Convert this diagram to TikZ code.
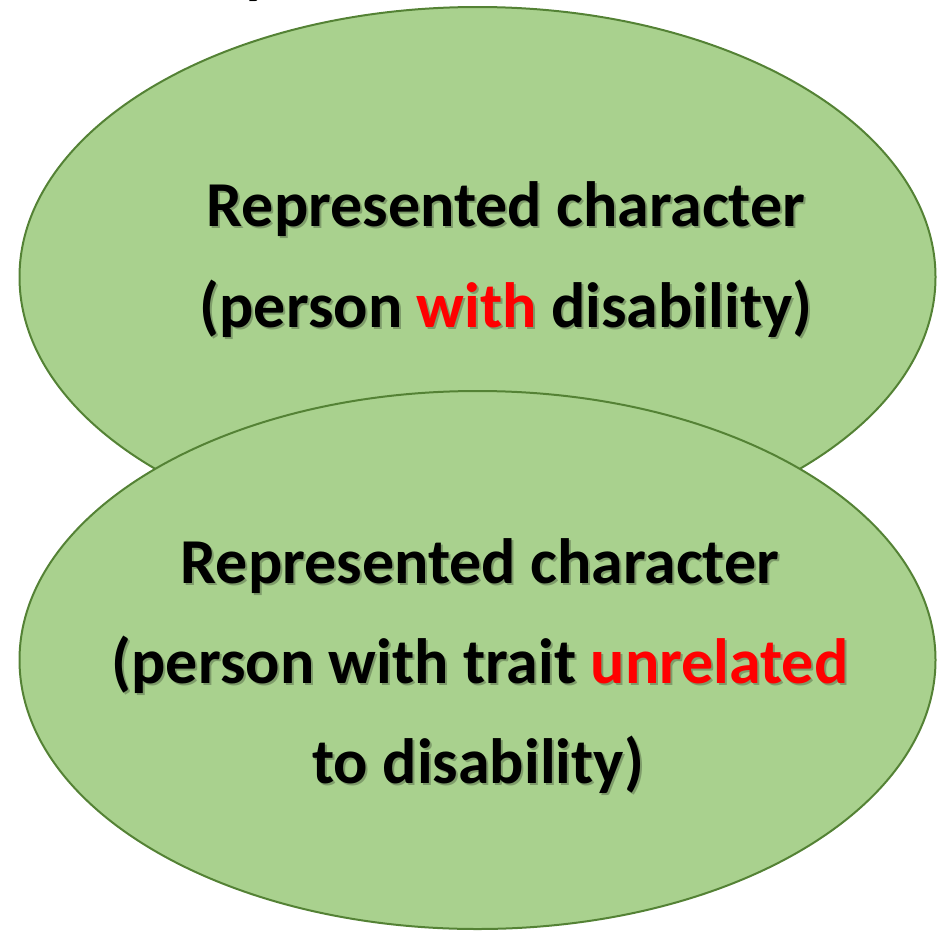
\documentclass[tikz,border=0pt]{standalone}
\usepackage{fontspec}
\setmainfont{Carlito}
\definecolor{leaf}{HTML}{A9D18E}
\definecolor{leafedge}{HTML}{548235}
\newcommand\hlcol{red}
\newcommand\hl[1]{{\color{\hlcol}#1}}
\tikzset{
  lbl/.style={anchor=base, inner sep=0pt, font=\fontsize{64}{68}\selectfont\bfseries},
  shade/.style={lbl, text=black, opacity=0.25, xshift=2pt, yshift=-2pt},
  blob/.style={fill=leaf, draw=leafedge, line width=2pt},
}
% one line of bold text with a soft drop shadow behind it
\newcommand\ovaltext[3]{%
  \node[shade] at (#2) {\def\hlcol{black}#3};
  \node[lbl] (#1) at (#2) {#3};
}
\begin{document}
\begin{tikzpicture}[x=1pt, y=1pt]
  \useasboundingbox (0,0) rectangle (937,-930);
  \clip (0,0) rectangle (937,-930);
  % tail of a heading letter above the frame
  \node[lbl] (head) at (259,9) {y};
  % upper oval
  \path[blob] (477.5,-277) ellipse [x radius=458, y radius=270];
  \ovaltext{upA}{506,-226}{Represented character}
  \ovaltext{upB}{506,-327}{(person \hl{with} disability)}
  % lower oval, lying over the upper one
  \path[blob] (477.5,-660) ellipse [x radius=458, y radius=269];
  \ovaltext{loA}{480,-583}{Represented character}
  \ovaltext{loB}{480,-683}{(person with trait \hl{unrelated}}
  \ovaltext{loC}{478,-783}{to disability)}
\end{tikzpicture}
\end{document}
